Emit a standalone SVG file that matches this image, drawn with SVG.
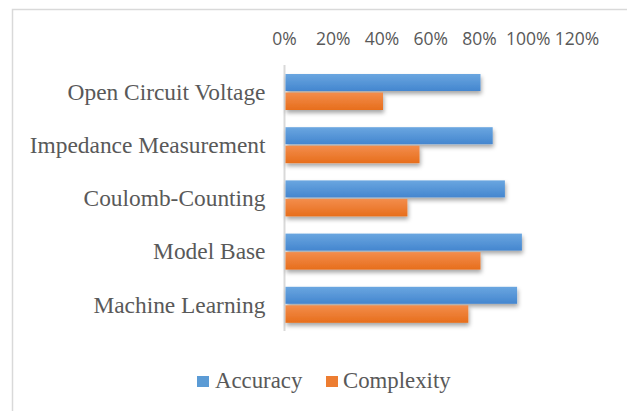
<svg xmlns="http://www.w3.org/2000/svg" width="627" height="411" viewBox="0 0 627 411">
  <style>
    .frame { stroke: #d9d9d9; stroke-width: 1.5; fill: none; }
    .axis { stroke: #d9d9d9; stroke-width: 2; }
    .tick { font-family: "Open Sans", "Liberation Sans", sans-serif; font-size: 17.5px; fill: #595959; text-anchor: middle; }
    .cat { font-family: "Liberation Serif", serif; font-size: 23.4px; fill: #595959; text-anchor: end; }
    .leg { font-family: "Liberation Serif", serif; font-size: 22.8px; fill: #595959; }
    .acc { fill: url(#gBlue); filter: url(#shadow); }
    .cpx { fill: url(#gOrange); filter: url(#shadow); }
  </style>
  <defs>
    <linearGradient id="gBlue" x1="0" y1="0" x2="0" y2="1">
      <stop offset="0" stop-color="#6aa6e0"/>
      <stop offset="1" stop-color="#4486cf"/>
    </linearGradient>
    <linearGradient id="gOrange" x1="0" y1="0" x2="0" y2="1">
      <stop offset="0" stop-color="#f38d4c"/>
      <stop offset="1" stop-color="#e76e1c"/>
    </linearGradient>
    <filter id="shadow" x="-5%" y="-30%" width="115%" height="180%">
      <feDropShadow dx="1" dy="3" stdDeviation="2" flood-color="#000" flood-opacity="0.35"/>
    </filter>
  </defs>

  <rect width="627" height="411" fill="#fff"/>
  <!-- chart frame (top and left edges) -->
  <path class="frame" d="M12.5,411 V9.5 H627"/>

  <!-- value axis tick labels: 0% at x=284.5, 243.75 px per 100% -->
  <g id="value-axis">
    <text class="tick" x="284.5" y="45">0%</text>
    <text class="tick" x="333.2" y="45">20%</text>
    <text class="tick" x="382" y="45">40%</text>
    <text class="tick" x="430.7" y="45">60%</text>
    <text class="tick" x="479.5" y="45">80%</text>
    <text class="tick" x="528.2" y="45">100%</text>
    <text class="tick" x="577" y="45">120%</text>
  </g>

  <!-- category axis line -->
  <g id="connectors">
    <line class="axis" x1="284.5" y1="65" x2="284.5" y2="331"/>
  </g>

  <g id="open-circuit-voltage">
    <text class="cat" x="265.5" y="99.5">Open Circuit Voltage</text>
    <rect class="acc" x="285.5" y="74" width="195" height="17"/>
    <rect class="cpx" x="285.5" y="92.5" width="97.5" height="17.5"/>
  </g>
  <g id="impedance-measurement">
    <text class="cat" x="265.5" y="152.5">Impedance Measurement</text>
    <rect class="acc" x="285.5" y="127.2" width="207.2" height="17"/>
    <rect class="cpx" x="285.5" y="145.7" width="134" height="17.5"/>
  </g>
  <g id="coulomb-counting">
    <text class="cat" x="265.5" y="206">Coulomb-Counting</text>
    <rect class="acc" x="285.5" y="180.4" width="219.4" height="17"/>
    <rect class="cpx" x="285.5" y="198.9" width="121.9" height="17.5"/>
  </g>
  <g id="model-base">
    <text class="cat" x="265.5" y="259">Model Base</text>
    <rect class="acc" x="285.5" y="233.6" width="236.4" height="17"/>
    <rect class="cpx" x="285.5" y="252.1" width="195" height="17.5"/>
  </g>
  <g id="machine-learning">
    <text class="cat" x="265.5" y="312.5">Machine Learning</text>
    <rect class="acc" x="285.5" y="286.8" width="231.6" height="17"/>
    <rect class="cpx" x="285.5" y="305.3" width="182.8" height="17.5"/>
  </g>

  <g id="legend">
    <rect x="197" y="376" width="12" height="11" fill="#5b9bd5"/>
    <text class="leg" x="215" y="387.5">Accuracy</text>
    <rect x="326" y="376" width="12" height="11" fill="#ed7d31"/>
    <text class="leg" x="343" y="387.5">Complexity</text>
  </g>
</svg>
